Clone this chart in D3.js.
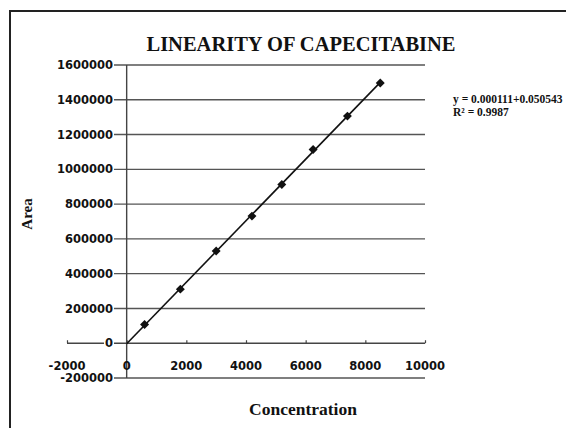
<!DOCTYPE html>
<html>
<head>
<meta charset="utf-8">
<title>Linearity of Capecitabine</title>
<style>
  body { margin: 0; background: #fff; }
  .tick-label { font-family: 'DejaVu Sans', sans-serif; font-weight: bold; font-size: 11.5px; fill: #111; }
  .serif { font-family: 'Liberation Serif', 'Times New Roman', serif; fill: #111; }
</style>
<script src="https://d3js.org/d3.v7.min.js"></script>
</head>
<body>
<div id="chart"></div>
<script>
  // ******* Data *******
  const concentration = [600, 1800, 3000, 4200, 5200, 6250, 7400, 8500];
  const area = [108000, 311000, 530000, 731000, 913000, 1114000, 1306000, 1497000];
  const xTicks = [-2000, 0, 2000, 4000, 6000, 8000, 10000];
  const yTicks = [-200000, 0, 200000, 400000, 600000, 800000, 1000000, 1200000, 1400000, 1600000];
  const equationLines = ["y = 0.000111+0.050543", "R\u00b2 = 0.9987"];

  const width = 566, height = 428;

  const svg = d3.select("#chart").append("svg")
      .attr("width", width)
      .attr("height", height)
      .style("display", "block");

  // outer frame (cut off at right and bottom like the scan)
  svg.append("rect")
      .attr("x", 10).attr("y", 11)
      .attr("width", 700).attr("height", 600)
      .attr("fill", "none")
      .attr("stroke", "#222")
      .attr("stroke-width", 2);

  const x = d3.scaleLinear().domain([-2000, 10000]).range([67, 425]);
  const y = d3.scaleLinear().domain([-200000, 1600000]).range([378, 65]);

  // horizontal gridlines
  svg.append("g").selectAll("line")
    .data(yTicks.filter(d => d !== 0))
    .join("line")
      .attr("x1", x(-2000)).attr("x2", x(10000))
      .attr("y1", d => y(d)).attr("y2", d => y(d))
      .attr("stroke", "#555")
      .attr("stroke-width", 1.4);

  // x axis along y = 0
  const xAxis = svg.append("g")
      .attr("transform", `translate(0,${y(0)})`)
      .call(d3.axisBottom(x).tickValues(xTicks).tickSize(-3).tickFormat(""));
  xAxis.select(".domain").attr("stroke", "#444").attr("stroke-width", 1.4).attr("d", `M${x(-2000)},0H${x(10000)}`);
  xAxis.selectAll(".tick line").attr("stroke", "#444").attr("stroke-width", 1.2);

  // y axis along x = 0
  svg.append("line")
      .attr("x1", x(0)).attr("x2", x(0))
      .attr("y1", y(1600000)).attr("y2", y(-200000))
      .attr("stroke", "#444")
      .attr("stroke-width", 1.4);

  // y tick labels with a white backing that hides the lines behind them
  const yLab = svg.append("g").selectAll("g")
    .data(yTicks)
    .join("g")
      .attr("transform", d => `translate(113,${y(d)})`);
  yLab.append("rect").attr("fill", "#fff");
  yLab.append("text")
      .attr("class", "tick-label")
      .attr("text-anchor", "end")
      .attr("dy", "0.36em")
      .text(d => d);
  yLab.each(function() {
    const b = d3.select(this).select("text").node().getBBox();
    d3.select(this).select("rect")
      .attr("x", b.x - 1).attr("y", b.y + 3)
      .attr("width", b.width + 2).attr("height", b.height - 6);
  });

  // x tick labels
  svg.append("g").selectAll("text")
    .data(xTicks)
    .join("text")
      .attr("class", "tick-label")
      .attr("text-anchor", "middle")
      .attr("x", d => x(d))
      .attr("y", 369.5)
      .text(d => d);

  // linear trendline (least squares) from 0 to last point
  const n = concentration.length;
  const mx = d3.mean(concentration), my = d3.mean(area);
  const slope = d3.sum(concentration, (c, i) => (c - mx) * (area[i] - my)) /
                d3.sum(concentration, c => (c - mx) * (c - mx));
  const icpt = my - slope * mx;
  const x0 = 0, x1 = concentration[n - 1];
  svg.append("line")
      .attr("x1", x(x0)).attr("y1", y(icpt + slope * x0))
      .attr("x2", x(x1)).attr("y2", y(icpt + slope * x1))
      .attr("stroke", "#111")
      .attr("stroke-width", 1.6);

  // diamond markers (square turned 45 degrees)
  svg.append("g").selectAll("path")
    .data(concentration.map((c, i) => [c, area[i]]))
    .join("path")
      .attr("transform", d => `translate(${x(d[0])},${y(d[1])}) rotate(45)`)
      .attr("d", d3.symbol(d3.symbolSquare, 40))
      .attr("fill", "#111");

  // title
  svg.append("text")
      .attr("class", "serif")
      .attr("x", 301).attr("y", 51)
      .attr("text-anchor", "middle")
      .style("font-size", "20.5px")
      .style("font-weight", "bold")
      .text("LINEARITY OF CAPECITABINE");

  // axis titles
  svg.append("text")
      .attr("class", "serif")
      .attr("transform", "translate(32,214) rotate(-90)")
      .attr("text-anchor", "middle")
      .style("font-size", "15px")
      .style("font-weight", "bold")
      .text("Area");

  svg.append("text")
      .attr("class", "serif")
      .attr("x", 303).attr("y", 415)
      .attr("text-anchor", "middle")
      .style("font-size", "17.5px")
      .style("font-weight", "bold")
      .text("Concentration");

  // trendline equation
  svg.append("g").selectAll("text")
    .data(equationLines)
    .join("text")
      .attr("class", "serif")
      .attr("x", 453)
      .attr("y", (d, i) => 103 + i * 13)
      .style("font-size", "11.5px")
      .style("font-weight", "bold")
      .text(d => d);
</script>
</body>
</html>
